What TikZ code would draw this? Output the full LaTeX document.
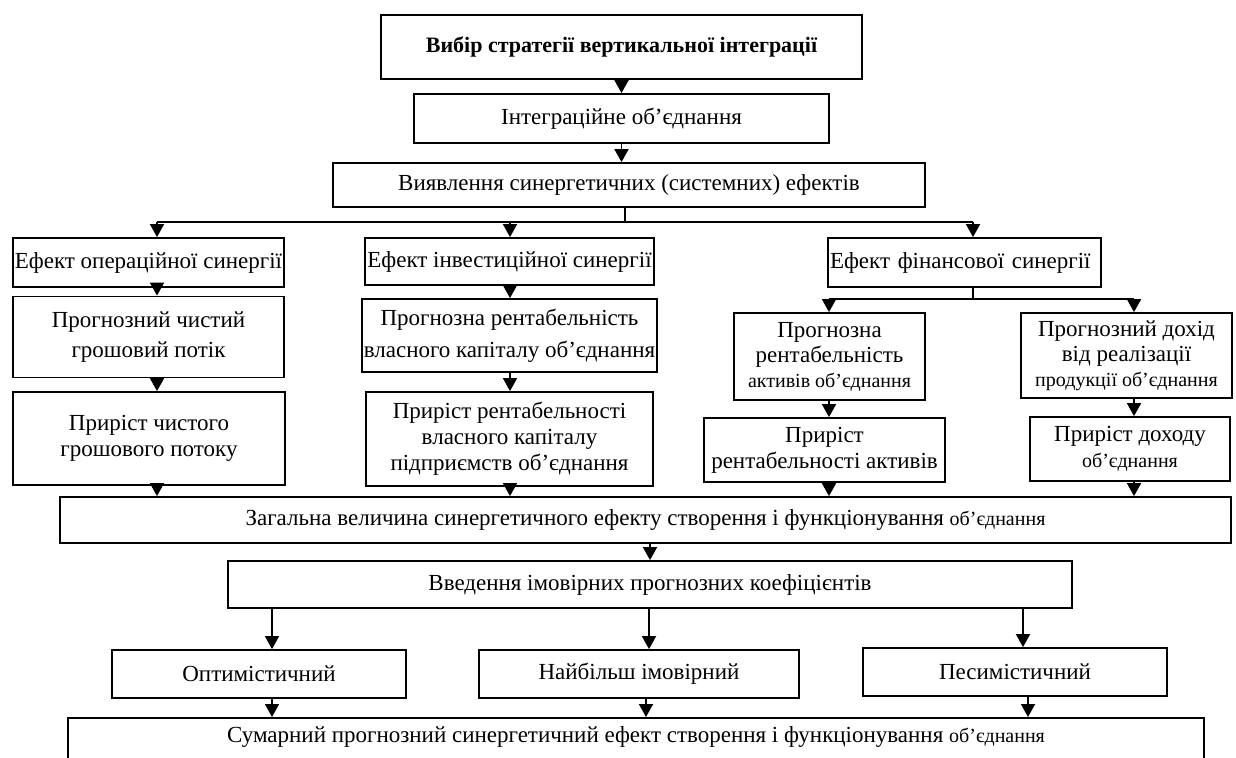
\documentclass[tikz,border=0pt]{standalone}
\usepackage{fontspec}
\setmainfont{Liberation Serif}
\usetikzlibrary{arrows.meta}
\newcommand\mysmall{\fontsize{10}{12}\selectfont}
\begin{document}
\begin{tikzpicture}[x=0.5pt,y=-0.5pt,
  bx/.style={draw, line width=0.9pt, inner sep=1pt, align=center, font=\fontsize{11.5}{13}\selectfont},
  sz/.style 2 args={minimum width=#1*0.5pt, minimum height=#2*0.5pt},
  arr/.style={-{Triangle[width=7pt,length=6.5pt]}, line width=0.9pt},
  ln/.style={line width=0.9pt}]
\useasboundingbox (0,0) rectangle (1236,758);
\fill[white] (0,0) rectangle (1236,758);
\begin{scope}
\clip (0,0) rectangle (1236,758);
\node[bx,sz={481}{64},font=\bfseries\fontsize{11}{13}\selectfont] (top) at (621.5,47) {Вибір стратегії вертикальної інтеграції};
\node[bx,sz={415}{49}] (integ) at (621.5,118.5) {Інтеграційне об’єднання};
\node[bx,sz={592}{44}] (vyyav) at (629,185) {Виявлення синергетичних (системних) ефектів};
\node[bx,sz={271}{49}] (a1) at (148.5,262.5) {Ефект операційної синергії};
\node[bx,sz={287}{47}] (b1) at (509.5,261.5) {Ефект інвестиційної синергії};
\node[bx,sz={273}{49},text width=134.5pt,align=left] (c1) at (964.5,262.5) {Ефект фінансової синергії};
\node[bx,sz={271}{81},font=\fontsize{11.5}{15}\selectfont] (a2) at (148.5,337) {Прогнозний чистий\\грошовий потік};
\node[bx,sz={272}{93}] (a3) at (149,438.5) {Приріст чистого\\грошового потоку};
\node[bx,sz={287}{73},font=\fontsize{11.5}{16}\selectfont] (b2) at (509.5,335.5) {Прогнозна рентабельність\\власного капіталу об’єднання};
\node[bx,sz={287}{94}] (b3) at (509.5,439) {Приріст рентабельності\\власного капіталу\\підприємств об’єднання};
\node[bx,sz={191}{87},font=\fontsize{11.5}{12.5}\selectfont] (c2l) at (829.5,356.5) {Прогнозна\\рентабельність\\{\mysmall активів об’єднання}};
\node[bx,sz={211}{85},font=\fontsize{11.5}{12.5}\selectfont] (c2r) at (1126.5,355.5) {Прогнозний дохід\\від реалізації\\{\mysmall продукції об’єднання}};
\node[bx,sz={241}{64}] (c3l) at (824.5,450) {Приріст\\рентабельності активів};
\node[bx,sz={200}{64}] (c3r) at (1130,449) {Приріст доходу\\{\mysmall об’єднання}};
\node[bx,sz={1171}{46}] (total) at (645.5,520) {Загальна величина синергетичного ефекту створення і функціонування {\mysmall об’єднання}};
\node[bx,sz={844}{47}] (coef) at (650,584.5) {Введення імовірних прогнозних коефіцієнтів};
\node[bx,sz={294}{48}] (opt) at (259,674) {Оптимістичний};
\node[bx,sz={320}{48}] (most) at (639,674) {Найбільш імовірний};
\node[bx,sz={304}{48}] (pess) at (1015,672) {Песимістичний};
\node[bx,sz={1136}{10},anchor=north,inner sep=0pt,text height=12.5pt,text depth=20pt] (sum) at (636,717) {Сумарний прогнозний синергетичний ефект створення і функціонування {\mysmall об’єднання}};
%
\coordinate (h1) at (625,222);
\coordinate (hl) at (157,222);
\coordinate (hm) at (510,222);
\coordinate (hr) at (973,222);
\coordinate (cd) at (973,299);
\coordinate (cl) at (829,299);
\coordinate (cr) at (1134,299);
\coordinate (xo) at (272,0);
\coordinate (xm) at (649,0);
\coordinate (xms) at (646,0);
\coordinate (xp) at (1023,0);
\coordinate (xps) at (1028,0);
%
\draw[arr] (top.south) -- (integ.north);
\draw[arr] (integ.south) -- (integ.south |- vyyav.north);
\draw[ln] (vyyav.south -| h1) -- (h1);
\draw[ln] (hl) -- (hr);
\draw[arr] (hl) -- (hl |- a1.north);
\draw[arr] (hm) -- (hm |- b1.north);
\draw[arr] (hr) -- (hr |- c1.north);
\draw[arr] (a1.south -| hl) -- (a2.north -| hl);
\draw[arr] (a2.south -| hl) -- (a3.north -| hl);
\draw[arr] (a3.south -| hl) -- (total.north -| hl);
\draw[arr] (b1.south -| hm) -- (b2.north -| hm);
\draw[arr] (b2.south -| hm) -- (b3.north -| hm);
\draw[arr] (b3.south -| hm) -- (total.north -| hm);
\draw[ln] (c1.south -| cd) -- (cd);
\draw[ln] (cl) -- (cr);
\draw[arr] (cl) -- (cl |- c2l.north);
\draw[arr] (cr) -- (cr |- c2r.north);
\draw[arr] (c2l.south -| cl) -- (c3l.north -| cl);
\draw[arr] (c3l.south -| cl) -- (total.north -| cl);
\draw[arr] (c2r.south -| cr) -- (c3r.north -| cr);
\draw[arr] (c3r.south -| cr) -- (total.north -| cr);
\draw[arr] (total.south -| coef) -- (coef.north);
\draw[arr] (coef.south -| xo) -- (opt.north -| xo);
\draw[arr] (coef.south -| xm) -- (most.north -| xm);
\draw[arr] (coef.south -| xp) -- (pess.north -| xp);
\draw[arr] (opt.south -| xo) -- (sum.north -| xo);
\draw[arr] (most.south -| xms) -- (sum.north -| xms);
\draw[arr] (pess.south -| xps) -- (sum.north -| xps);
\end{scope}
\end{tikzpicture}
\end{document}
